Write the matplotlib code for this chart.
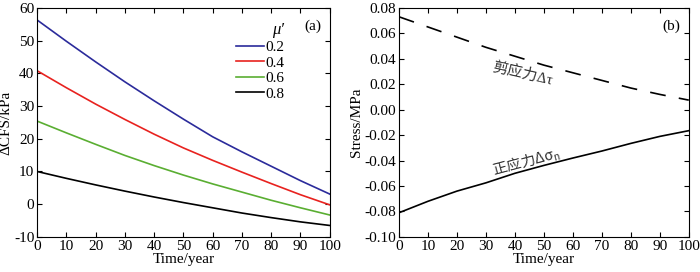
import numpy as np
import matplotlib
matplotlib.use('Agg')
import matplotlib.pyplot as plt
from matplotlib.ticker import FormatStrFormatter

plt.rcParams['font.family'] = ['Liberation Serif', 'Noto Sans CJK SC']
plt.rcParams['axes.unicode_minus'] = False

# 数据
years = [0, 10, 20, 30, 40, 50, 60, 70, 80, 90, 100]
mu_labels = ['0.2', '0.4', '0.6', '0.8']
mu_colors = ['#2b2b9b', '#e8221f', '#5aae32', '#000000']
cfs_02 = [56.3, 49.8, 43.5, 37.4, 31.6, 26.0, 20.6, 16.0, 11.6, 7.2, 3.1]
cfs_04 = [40.8, 35.6, 30.6, 25.9, 21.4, 17.2, 13.4, 9.8, 6.3, 2.9, -0.2]
cfs_06 = [25.4, 21.8, 18.3, 14.9, 11.8, 8.9, 6.2, 3.7, 1.2, -1.1, -3.3]
cfs_08 = [10.0, 7.9, 5.9, 4.0, 2.2, 0.5, -1.1, -2.7, -4.1, -5.4, -6.5]
shear = [0.073, 0.065, 0.057, 0.049, 0.042, 0.035, 0.029, 0.023, 0.017, 0.012, 0.0075]
normal = [-0.081, -0.072, -0.064, -0.0575, -0.050, -0.0438, -0.038, -0.0325, -0.0265, -0.021, -0.0165]

fig = plt.figure(figsize=(7, 2.72), dpi=100)
ax1 = fig.add_axes([0.053, 0.129, 0.418, 0.842])
ax2 = fig.add_axes([0.570, 0.129, 0.414, 0.842])

for vals, lab, col in zip([cfs_02, cfs_04, cfs_06, cfs_08], mu_labels, mu_colors):
    ax1.plot(years, vals, color=col, lw=1.2, label=lab)
ax1.set_xlim(0, 100)
ax1.set_ylim(-10, 60)
ax1.set_xticks(range(0, 101, 10))
ax1.set_yticks(range(-10, 61, 10))
ax1.set_xlabel('Time/year', fontsize=11, labelpad=0)
ax1.set_ylabel('ΔCFS/kPa', fontsize=11, labelpad=1)
leg = ax1.legend(loc='upper right', bbox_to_anchor=(0.865, 0.963), frameon=False,
                 title='μ′', fontsize=11, title_fontsize=12,
                 handlelength=1.85, handletextpad=0.05, labelspacing=0.12, borderaxespad=0)
leg.get_title().set_fontstyle('italic')
leg._legend_box.align = 'right'
ax1.text(0.97, 0.95, '(a)', transform=ax1.transAxes, ha='right', va='top', fontsize=11)

ax2.plot(years, shear, color='black', lw=1.2, dashes=(9.5, 8))
ax2.plot(years, normal, color='black', lw=1.2)
ax2.set_xlim(0, 100)
ax2.set_ylim(-0.10, 0.08)
ax2.set_xticks(range(0, 101, 10))
ax2.set_yticks(np.arange(-0.10, 0.081, 0.02))
ax2.yaxis.set_major_formatter(FormatStrFormatter('%.2f'))
ax2.set_xlabel('Time/year', fontsize=11, labelpad=0)
ax2.set_ylabel('Stress/MPa', fontsize=11, labelpad=1)
ax2.text(0.97, 0.95, '(b)', transform=ax2.transAxes, ha='right', va='top', fontsize=11)
ax2.text(42.5, 0.0285, '剪应力Δτ', rotation=-13, ha='center', va='center',
         fontsize=11, color='#333333')
ax2.text(44, -0.0405, '正应力Δσ$_\\mathregular{n}$', rotation=15, ha='center', va='center',
         fontsize=10.5, color='#333333', family='Noto Sans CJK SC')

for ax in (ax1, ax2):
    ax.tick_params(direction='in', top=True, right=True, labelsize=11, length=3.5, pad=2)
    for sp in ax.spines.values():
        sp.set_linewidth(0.8)

fig.savefig('out.png', dpi=100)
